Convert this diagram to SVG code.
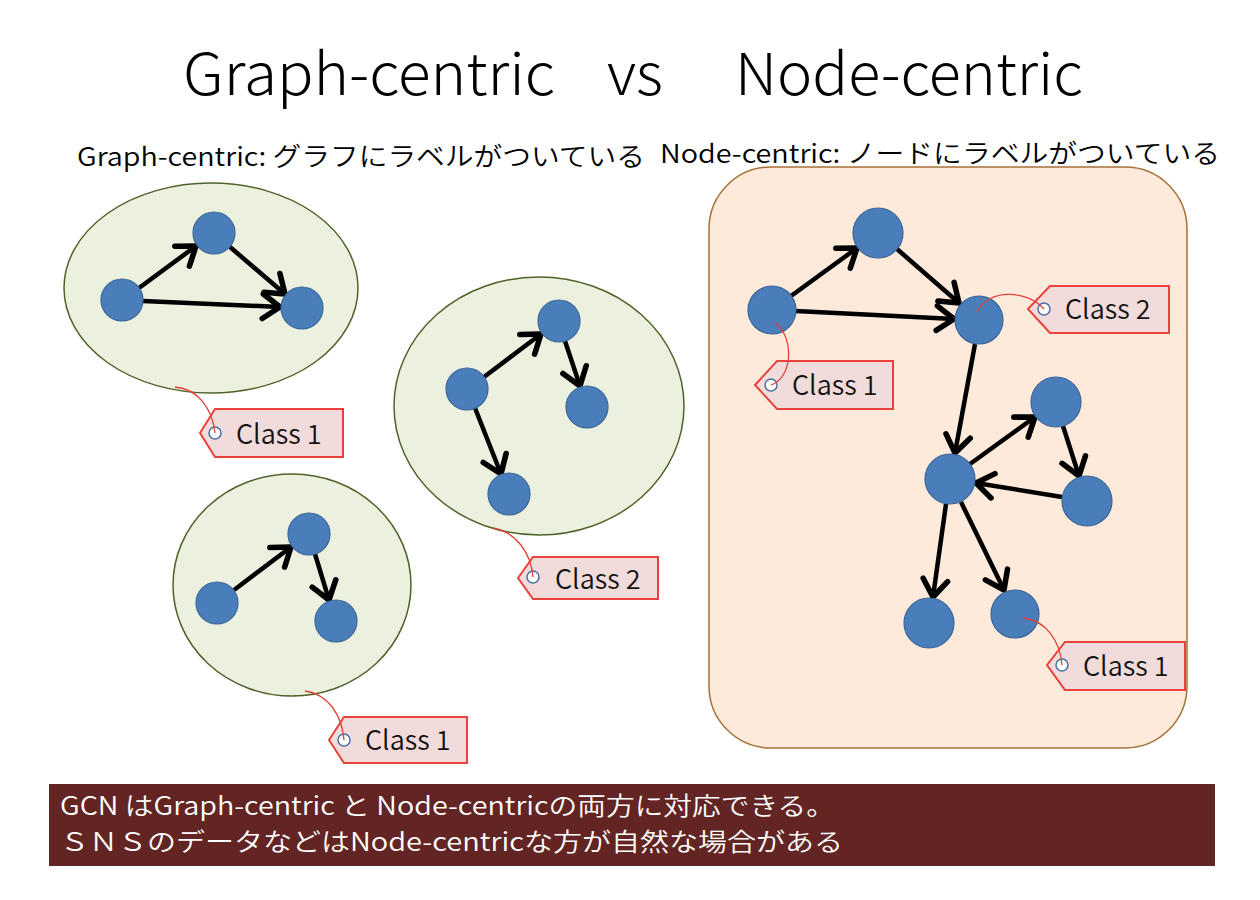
<svg xmlns="http://www.w3.org/2000/svg" width="1260" height="900" viewBox="0 0 1260 900">
<defs>
<style>
.title{font-family:"Noto Sans CJK JP","Noto Sans",sans-serif;font-weight:300;font-size:58px;fill:#000;}
.sub{font-family:"Noto Sans CJK JP","Noto Sans",sans-serif;font-weight:350;font-size:26px;fill:#000;}
.foot{font-family:"Noto Sans CJK JP","Noto Sans",sans-serif;font-weight:350;font-size:25px;fill:#fff;}
.grp{fill:#ebf1de;stroke:#4f6228;stroke-width:1.5;}
.node{fill:#4a7ebb;stroke:#3a6598;stroke-width:1.2;}
.edge{stroke:#000;stroke-width:4.5;fill:none;marker-end:url(#arr);}
.tag{fill:#f2dcdb;stroke:#e8423c;stroke-width:2;}
.hole{fill:#fff;stroke:#4a6fa5;stroke-width:1.5;}
.str{fill:none;stroke:#e0403a;stroke-width:1.3;}
.lbl{font-family:"Noto Sans CJK JP","Noto Sans",sans-serif;font-weight:350;font-size:27px;fill:#111;}
</style>
<marker id="arr" markerUnits="userSpaceOnUse" markerWidth="32" markerHeight="32" viewBox="-17 -13 21 26" refX="0" refY="0" orient="auto">
<path d="M-14,-10 L0,0 L-14,10" fill="none" stroke="#000" stroke-width="4.5" stroke-linecap="round" stroke-linejoin="round"/>
</marker>
</defs>
<rect width="1260" height="900" fill="#fff"/>
<g id="title">
<text class="title" x="183" y="95" textLength="372" lengthAdjust="spacingAndGlyphs">Graph-centric</text>
<text class="title" x="607" y="95" textLength="56" lengthAdjust="spacingAndGlyphs">vs</text>
<text class="title" x="735" y="95" textLength="348" lengthAdjust="spacingAndGlyphs">Node-centric</text>
</g>
<g id="subtitles">
<text class="sub" x="77" y="166" textLength="568" lengthAdjust="spacingAndGlyphs">Graph-centric: グラフにラベルがついている</text>
<text class="sub" x="660" y="163" textLength="560" lengthAdjust="spacingAndGlyphs">Node-centric: ノードにラベルがついている</text>
</g>
<g id="graph1">
<ellipse class="grp" cx="211" cy="288" rx="147" ry="105"/>
</g>
<g id="graph2">
<ellipse class="grp" cx="539" cy="406" rx="145" ry="129"/>
</g>
<g id="graph3">
<ellipse class="grp" cx="292" cy="585" rx="119" ry="111"/>
</g>
<g id="nodegraph">
<rect x="709" y="167" width="478" height="581" rx="62" ry="62" fill="#fdeada" stroke="#a8703a" stroke-width="1.5"/>
</g>
<g id="connectors">
<line class="edge" x1="139" y1="288" x2="196" y2="246"/>
<line class="edge" x1="143" y1="301" x2="280" y2="307"/>
<line class="edge" x1="230" y1="247" x2="285" y2="294"/>
<line class="edge" x1="484" y1="377" x2="541" y2="334"/>
<line class="edge" x1="565" y1="341" x2="580" y2="386"/>
<line class="edge" x1="475" y1="408" x2="501" y2="474"/>
<line class="edge" x1="234" y1="590" x2="291" y2="547"/>
<line class="edge" x1="315" y1="554" x2="329" y2="600"/>
<line class="edge" x1="791" y1="296" x2="857" y2="248"/>
<line class="edge" x1="796" y1="311" x2="954" y2="319"/>
<line class="edge" x1="897" y1="249" x2="959" y2="303"/>
<line class="edge" x1="975" y1="344" x2="955" y2="453"/>
<line class="edge" x1="970" y1="464" x2="1035" y2="417"/>
<line class="edge" x1="1063" y1="426" x2="1079" y2="476"/>
<line class="edge" x1="1062" y1="497" x2="976" y2="483"/>
<line class="edge" x1="946" y1="504" x2="933" y2="597"/>
<line class="edge" x1="961" y1="502" x2="1004" y2="590"/>
</g>
<g id="g1-nodes">
<circle class="node" cx="122" cy="300" r="21"/>
<circle class="node" cx="214" cy="233" r="21"/>
<circle class="node" cx="302" cy="308" r="21"/>
</g>
<g id="g2-nodes">
<circle class="node" cx="467" cy="389" r="21"/>
<circle class="node" cx="559" cy="321" r="21"/>
<circle class="node" cx="587" cy="407" r="21"/>
<circle class="node" cx="509" cy="494" r="21"/>
</g>
<g id="g3-nodes">
<circle class="node" cx="217" cy="603" r="21"/>
<circle class="node" cx="309" cy="534" r="21"/>
<circle class="node" cx="336" cy="621" r="21"/>
</g>
<g id="ng-nodes">
<circle class="node" cx="772" cy="310" r="24"/>
<circle class="node" cx="878" cy="233" r="25"/>
<circle class="node" cx="979" cy="320" r="24"/>
<circle class="node" cx="1056" cy="402" r="25"/>
<circle class="node" cx="950" cy="479" r="25"/>
<circle class="node" cx="1087" cy="501" r="25"/>
<circle class="node" cx="929" cy="623" r="25"/>
<circle class="node" cx="1015" cy="614" r="24"/>
</g>
<g id="tag-g1">
<polygon class="tag" points="200,433 215,409 343,409 343,457 215,457"/>
<circle class="hole" cx="215" cy="433" r="6"/>
<path class="str" d="M175,387 C198,389 212,408 215,433"/>
<text class="lbl" x="236" y="444">Class 1</text>
</g>
<g id="tag-g2">
<polygon class="tag" points="518,578 533,557 658,557 658,599 533,599"/>
<circle class="hole" cx="533" cy="577" r="6"/>
<path class="str" d="M493,528 C516,532 531,553 533,577"/>
<text class="lbl" x="555" y="589">Class 2</text>
</g>
<g id="tag-g3">
<polygon class="tag" points="329,740 344,717 467,717 467,763 344,763"/>
<circle class="hole" cx="344" cy="740" r="6"/>
<path class="str" d="M305,691 C328,694 342,715 344,740"/>
<text class="lbl" x="365" y="750">Class 1</text>
</g>
<g id="tag-n1">
<polygon class="tag" points="755,385 777,361 893,361 893,409 777,409"/>
<circle class="hole" cx="771" cy="385" r="6"/>
<path class="str" d="M776,323 C795,340 792,378 771,385"/>
<text class="lbl" x="792" y="395">Class 1</text>
</g>
<g id="tag-n3">
<polygon class="tag" points="1028,309 1050,286 1169,286 1169,333 1050,333"/>
<circle class="hole" cx="1044" cy="309" r="6"/>
<path class="str" d="M977,312 C988,288 1028,290 1044,309"/>
<text class="lbl" x="1065" y="319">Class 2</text>
</g>
<g id="tag-n8">
<polygon class="tag" points="1047,665 1065,642 1185,642 1185,690 1065,690"/>
<circle class="hole" cx="1062" cy="665" r="6"/>
<path class="str" d="M1023,618 C1045,620 1060,640 1062,665"/>
<text class="lbl" x="1083" y="676">Class 1</text>
</g>
<g id="footer">
<rect x="49" y="784" width="1166" height="82" fill="#632523"/>
<text class="foot" x="60" y="815" textLength="775" lengthAdjust="spacingAndGlyphs">GCN はGraph-centric と Node-centricの両方に対応できる。</text>
<text class="foot" x="60" y="851" textLength="783" lengthAdjust="spacingAndGlyphs">ＳＮＳのデータなどはNode-centricな方が自然な場合がある</text>
</g>
</svg>
